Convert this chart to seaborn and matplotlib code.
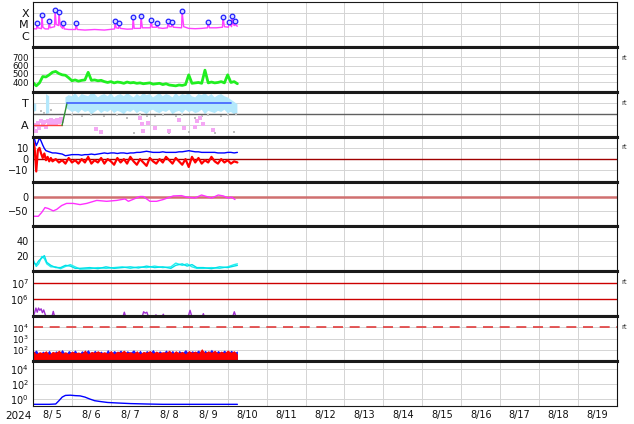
import matplotlib
matplotlib.use('Agg')
import matplotlib.pyplot as plt
import matplotlib.dates as mdates
from matplotlib.ticker import FixedLocator, FuncFormatter, NullFormatter
import numpy as np
import pandas as pd
import seaborn as sns

START = pd.Timestamp('2024-08-05 00:00')
END = pd.Timestamp('2024-08-20 00:00')

# panel 1: x-ray flux, log10 W/m2 (hours since 8/5 00:00)
XRAY_HOURS = [0, 2.2, 2.5, 3.0, 5.2, 5.5, 6.1, 7.5, 9.6, 9.9, 10.6, 13.3, 13.6, 14.3, 15.7, 16.0, 16.8,
              18.2, 18.5, 19.3, 22.0, 26.2, 26.5, 27.3, 32.0, 38.0, 44.0, 50.3, 50.6, 51.3, 52.7, 53.0,
              53.8, 58.0, 61.4, 61.7, 62.4, 66.3, 66.6, 67.4, 72.4, 72.7, 73.5, 76.1, 76.4, 77.2, 80.0,
              82.9, 83.2, 84.0, 85.4, 85.7, 86.5, 91.6, 91.9, 92.9, 96.0, 100.0, 104.0, 107.6, 107.9,
              108.8, 113.0, 116.8, 117.1, 118.0, 120.5, 120.8, 121.5, 122.4, 122.7, 123.4, 124.2, 124.5,
              125.2, 126.0]
XRAY_LOG = [-5.38, -5.40, -4.91, -5.30, -5.38, -4.18, -5.25, -5.40, -5.40, -4.73, -5.30, -5.20, -3.73,
            -5.00, -5.10, -3.91, -5.10, -5.35, -4.91, -5.40, -5.45, -5.45, -4.91, -5.45, -5.50, -5.45,
            -5.50, -5.40, -4.73, -5.30, -5.35, -4.91, -5.35, -5.42, -5.40, -4.36, -5.35, -5.35, -4.27,
            -5.30, -5.30, -4.64, -5.25, -5.25, -4.91, -5.30, -5.35, -5.30, -4.73, -5.20, -5.20, -4.82,
            -5.25, -5.30, -3.82, -5.20, -5.35, -5.38, -5.35, -5.30, -4.82, -5.30, -5.30, -5.25, -4.36,
            -5.20, -5.25, -4.82, -5.00, -5.20, -4.27, -5.00, -5.10, -4.73, -5.10, -5.15]
FLARE_HOURS = [2.5, 5.5, 9.9, 13.6, 16.0, 18.5, 26.5, 50.6, 53.0, 61.7, 66.6, 72.7, 76.4, 83.2, 85.7,
               91.9, 107.9, 117.1, 120.8, 122.7, 124.5]
FLARE_LOG = [-4.91, -4.18, -4.73, -3.73, -3.91, -4.91, -4.91, -4.73, -4.91, -4.36, -4.27, -4.64, -4.91,
             -4.73, -4.82, -3.82, -4.82, -4.36, -4.82, -4.27, -4.73]
XRAY_TICKS = [-6, -5, -4]
XRAY_LABELS = ['C', 'M', 'X']

# 2-hourly samples, 0..126 h
GRID_HOURS = np.arange(0, 127, 2)

# panel 2: solar wind speed
WIND_SPEED = [400, 360, 395, 470, 465, 490, 520, 530, 505, 490,
              485, 455, 420, 430, 415, 425, 430, 520, 425, 430,
              420, 425, 410, 400, 410, 395, 405, 400, 390, 405,
              395, 400, 390, 395, 385, 390, 395, 380, 385, 390,
              375, 385, 370, 365, 360, 370, 365, 375, 490, 390,
              395, 400, 390, 545, 395, 405, 395, 400, 410, 395,
              490, 400, 410, 385]

# panel 3: sector (T / A)
SECTOR_HOURS = [0, 17.9, 21.0, 122.0]
SECTOR_VAL = [-1, -1, 1, 1]
n = np.nan
TOWARD_HIGH = [1.0, 0.9, n, n, 1.8, 1.6, n, n, n, n, 1.5,
               1.7, 1.6, 1.9, 1.5, 1.8, 1.7, 1.6, 1.9, 1.8, 1.5, 1.7, 1.8, 1.6, 1.9, 1.5, 1.7, 1.8,
               1.6, 1.9, 1.7, 1.5, 1.8, 1.6, 1.9, 1.7, 1.8, 1.5, 1.7, 1.9, 1.6, 1.8, 1.7, 1.5, 1.9,
               1.6, 1.8, 1.7, 1.9, 1.6, 1.5, 1.8, 1.7, 1.9, 1.6, 1.8, 1.5, 1.7, 1.8, 1.6, 1.5, 1.3,
               1.1, 0.9]
TOWARD_LOW = [0.2, 0.3, n, n, 0.0, 0.1, n, n, n, n, 0.6,
              0.4, 0.2, 0.3, 0.1, 0.4, 0.2, 0.3, 0.0, 0.2, 0.4, 0.1, 0.3, 0.2, 0.4, 0.1, 0.3, 0.2,
              0.0, 0.3, 0.2, 0.4, 0.1, 0.3, 0.2, 0.0, 0.3, 0.4, 0.2, 0.1, 0.3, 0.2, 0.4, 0.0, 0.2,
              0.3, 0.1, 0.4, 0.2, 0.3, 0.1, 0.2, 0.4, 0.0, 0.3, 0.2, 0.1, 0.3, 0.2, 0.4, 0.1, 0.2,
              0.0, 0.1]
GRAY_HOURS = [5, 7, 11, 24, 30, 36, 41, 44, 52, 58, 62, 66, 70, 75, 80, 84, 88, 92, 96, 100, 104, 108,
              112, 116, 120, 124, 125]
GRAY_VAL = [0.3, 0.1, 0.4, -0.1, -0.2, -0.1, -1.7, -0.2, -0.1, -0.3, -1.7, 0.0, -0.2, -0.2, -0.1, -1.7,
            -0.2, -0.1, -1.6, -0.3, -0.2, -0.1, -1.7, -0.2, -0.1, -1.6, 0.0]
PINK_HOURS = [0, 1, 2, 3, 4, 5, 6, 7, 8, 9, 10, 11, 12, 13, 14, 15, 16, 17, 18, 39, 42, 66, 67, 68, 71,
              75, 84, 90, 93, 100, 101, 103, 105, 111]
PINK_VAL = [-1.3, -1.0, -1.5, -0.8, -1.2, -0.6, -1.0, -0.7, -1.1, -0.6, -0.9, -0.5, -0.8, -0.6, -0.9,
            -0.5, -0.7, -0.4, -0.6, -1.3, -1.6, -0.3, -0.9, -1.5, -0.8, -1.2, -1.5, -0.5, -1.2, -1.1,
            -0.6, -0.3, -0.9, -1.4]

# panel 4: IMF Bt / Bz (nT)
IMF_HOURS = np.r_[np.arange(0, 12), np.arange(12, 127, 2)]
BT = [19, 17.5, 12, 15, 19, 16, 12.5, 9.5, 7.5, 7, 6.5, 6,
      5.5, 5.5, 5, 4.5, 3, 3.5, 4, 4, 4, 3.5,
      4, 4, 4.5, 4, 4.5, 5, 5.5, 5, 5.5, 5.5,
      5, 5.5, 5.5, 5, 5.5, 5.5, 6, 6, 6.5, 7,
      6.5, 6, 6, 6, 6.5, 6, 6, 6, 6, 6.5,
      6.5, 7, 7.5, 7, 6.5, 6.5, 6, 6, 6, 6,
      6, 5.5, 5.5, 5.5, 6, 6, 5.5, 6]
BZ = [18, 10, -11, 8, 10, 5, 1, 5, -1, 2, -2, 1,
      -2, 0, -3, -1, -4, 1, -3, -1, -4, 0,
      -3, 2, -4, -1, -3, 1, -4, 0, -2, -5,
      1, -3, 0, -4, 2, -2, -5, 0, -3, -6,
      1, -2, -4, 0, -3, 2, -1, -4, 1, -2,
      -5, 0, -7, 2, -3, 1, -4, -1, -3, 2,
      -2, -4, 0, -3, -1, -4, -2, -3]

# panel 5: Dst (nT)
DST_HOURS = [0.2, 3.3, 5.4, 7.4, 9.4, 12.5, 14.6, 17.7, 20.7, 24.8, 29.0, 33.1, 39.3, 45.4, 51.6,
             56.7, 58.8, 65.9, 68.0, 72.1, 76.2, 80.3, 86.5, 91.6, 94.7, 99.8, 103.9, 107.0, 110.1,
             114.2, 117.3, 120.3, 122.4, 124.5]
DST = [-66, -66, -53, -37, -40, -48, -43, -30, -23, -23, -27, -23, -13, -16, -13, -8, -16, 0, 0, -16,
       -16, -10, 2, 3, -2, -5, 5, 0, -5, 5, 2, -5, -2, -10]

# panel 6: density (two sources)
DENS_HOURS = [0, 2, 3.5, 5.5, 7, 8.5, 11, 14, 17, 20, 23, 26, 29, 35, 40, 45, 50, 55, 60, 65, 70, 75,
              80, 85, 88, 92, 95, 98, 101, 105, 110, 115, 120, 124, 126]
DENS_A = [16, 6.5, 10, 20, 17, 10, 6, 6, 3.5, 6.5, 9, 6, 3, 3.5, 5, 4, 5, 6, 4, 6, 5, 7, 5, 6, 11, 8,
          10, 6, 4, 4, 5, 4, 6, 9, 10]
DENS_B = [12, 9, 14, 18, 21, 12, 8, 5, 5, 8, 7, 4, 4, 5, 3.5, 6, 4, 5, 6, 4.5, 7, 5, 6, 4, 8, 10, 7,
          9, 5, 5, 3.5, 6, 5, 7, 8]

# panel 7: electron flux
E_HOURS = [0, 1.0, 1.8, 2.6, 3.4, 4.2, 5.0, 5.8, 6.6, 7.6, 8.6, 11.6, 12.5, 13.4, 55.4, 56.3, 57.2,
           67.2, 68.2, 69.2, 70.2, 71.2, 75.0, 75.8, 76.6, 79.5, 80.3, 81.1, 95.6, 96.8, 98.0, 104.3,
           105.0, 105.7, 123.0, 124.1, 125.2, 126.0]
E_FLUX = [8e4, 1.5e5, 2.9e5, 1.6e5, 2.9e5, 2.1e5, 2.6e5, 1.5e5, 2.2e5, 1.1e5, 8e4, 8e4, 1.8e5, 8e4,
          8e4, 1.6e5, 8e4, 8e4, 1.7e5, 1.4e5, 1.6e5, 8e4, 8e4, 1.1e5, 8e4, 8e4, 1.2e5, 8e4, 8e4, 2.1e5,
          8e4, 8e4, 1.3e5, 8e4, 8e4, 1.7e5, 8e4, 8e4]
E_LEVELS = [1e6, 1e7]

# panel 8: two flux channels
FLUX_RED = [90, 45, 70, 55, 85, 40, 75, 60, 95, 50,
            70, 45, 80, 55, 65, 50, 100, 45, 75, 60,
            85, 55, 70, 50, 90, 45, 80, 60, 95, 55,
            70, 50, 85, 45, 75, 60, 90, 50, 80, 55,
            70, 60, 95, 50, 85, 55, 75, 45, 90, 60,
            80, 50, 130, 55, 85, 60, 95, 50, 80, 55,
            100, 60, 85, 40]
FLUX_BLUE = [60, 100, 35, 80, 45, 95, 30, 85, 50, 110,
             40, 90, 55, 100, 35, 85, 60, 105, 40, 95,
             50, 80, 35, 110, 45, 90, 55, 100, 40, 85,
             60, 105, 45, 95, 35, 90, 55, 110, 40, 85,
             50, 100, 45, 95, 30, 90, 55, 110, 45, 85,
             60, 100, 40, 95, 50, 115, 45, 90, 55, 100,
             40, 95, 60, 80]
FLUX_THRESHOLD = 1e4

# panel 9: proton flux
P_HOURS = [0, 10, 14, 16, 18, 20, 23, 26, 29, 32, 35, 38, 42, 46, 52, 60, 70, 80, 90, 100, 110, 120, 126]
P_FLUX = [0.2, 0.2, 0.22, 0.6, 1.8, 3.0, 3.2, 2.8, 2.6, 1.8, 1.0, 0.6, 0.45, 0.35, 0.3, 0.25, 0.22,
          0.2, 0.2, 0.2, 0.2, 0.2, 0.2]


def to_time(hours):
    return START + pd.to_timedelta(np.asarray(hours, dtype=float), unit='h')


def log_label(v, pos):
    return r'$10^{%d}$' % int(round(np.log10(v)))


def day_label(v, pos):
    d = mdates.num2date(v)
    return '%d/%2d' % (d.month, d.day)


sns.set_style('white')
plt.rcParams['font.family'] = ['DejaVu Sans']
plt.rcParams['font.size'] = 7

fig, axes = plt.subplots(9, 1, figsize=(6.34, 4.24), dpi=100, sharex=True)
fig.subplots_adjust(left=33 / 634, right=617 / 634, top=1 - 2 / 424, bottom=1 - 406 / 424, hspace=0)

# 1 x-ray
ax = axes[0]
sns.lineplot(x=to_time(XRAY_HOURS), y=XRAY_LOG, ax=ax, color='#ff40ff', linewidth=1,
             estimator=None, sort=False)
sns.scatterplot(x=to_time(FLARE_HOURS), y=FLARE_LOG, ax=ax, marker='o', s=11,
                facecolor='#d8d8ff', edgecolor='#2020ff', linewidth=0.9, zorder=5)
ax.set_ylim(-7, -3)
ax.set_yticks(XRAY_TICKS)

# 2 wind speed
ax = axes[1]
sns.lineplot(x=to_time(GRID_HOURS), y=WIND_SPEED, ax=ax, color='#20ee20', linewidth=2,
             estimator=None, sort=False)
ax.set_ylim(290, 820)
ax.set_yticks([400, 500, 600, 700])

# 3 sector
ax = axes[2]
ax.axhline(0, color='#606060', lw=1)
ax.fill_between(to_time(GRID_HOURS), TOWARD_LOW, TOWARD_HIGH, color='#b4e8fc', lw=0)
ax.plot(to_time(GRAY_HOURS), GRAY_VAL, ls='none', marker='s', ms=1.8, color='#bdbdbd', mew=0)
ax.plot(to_time(PINK_HOURS), PINK_VAL, ls='none', marker='s', ms=2.2, color='#f4a8f4', mew=0)
st = to_time(SECTOR_HOURS)
ax.plot(st[0:2], SECTOR_VAL[0:2], color='#ff4040', lw=1)
ax.plot(st[1:3], SECTOR_VAL[1:3], color='#309030', lw=1)
ax.plot(st[2:4], SECTOR_VAL[2:4], color='#4060ff', lw=1.2)
ax.set_ylim(-2, 2)
ax.set_yticks([-1, 1])

# 4 IMF
ax = axes[3]
ax.axhline(0, color='#a00000', lw=1)
it = to_time(IMF_HOURS)
sns.lineplot(x=it, y=BZ, ax=ax, color='#ff0000', linewidth=1.6, estimator=None, sort=False)
sns.lineplot(x=it, y=BT, ax=ax, color='#0000ff', linewidth=1, estimator=None, sort=False)
ax.set_ylim(-20, 20)
ax.set_yticks([-10, 0, 10])

# 5 Dst
ax = axes[4]
ax.axhline(0, color='#d07070', lw=1.8)
sns.lineplot(x=to_time(DST_HOURS), y=DST, ax=ax, color='#ff30ff', linewidth=1,
             estimator=None, sort=False)
ax.set_ylim(-100, 50)
ax.set_yticks([-50, 0])

# 6 density
ax = axes[5]
dt = to_time(DENS_HOURS)
sns.lineplot(x=dt, y=DENS_A, ax=ax, color='#20f0f0', linewidth=1, estimator=None, sort=False)
sns.lineplot(x=dt, y=DENS_B, ax=ax, color='#00e0e8', linewidth=1, estimator=None, sort=False)
ax.set_ylim(0, 60)
ax.set_yticks([20, 40])

# 7 electrons
ax = axes[6]
ax.set_yscale('log')
for lev in E_LEVELS:
    ax.axhline(lev, color='#cc0000', lw=1)
sns.lineplot(x=to_time(E_HOURS), y=E_FLUX, ax=ax, color='#a030d0', linewidth=1,
             estimator=None, sort=False)
ax.set_ylim(9e4, 5.6e7)
ax.yaxis.set_major_locator(FixedLocator(E_LEVELS))
ax.yaxis.set_major_formatter(FuncFormatter(log_label))

# 8 flux channels
ax = axes[7]
ax.set_yscale('log')
ft = to_time(GRID_HOURS)
ax.fill_between(ft, 1, FLUX_BLUE, color='#1a1aff', lw=0)
ax.fill_between(ft, 1, FLUX_RED, color='#ff0000', lw=0)
ax.axhline(FLUX_THRESHOLD, color='#e03c3c', lw=1.2, dashes=(6, 4))
ax.set_ylim(10, 1e5)
ax.yaxis.set_major_locator(FixedLocator([1e2, 1e3, 1e4]))
ax.yaxis.set_major_formatter(FuncFormatter(log_label))

# 9 protons
ax = axes[8]
ax.set_yscale('log')
sns.lineplot(x=to_time(P_HOURS), y=P_FLUX, ax=ax, color='#0000ff', linewidth=1,
             estimator=None, sort=False)
ax.set_ylim(0.12, 1e5)
ax.yaxis.set_major_locator(FixedLocator([1e0, 1e2, 1e4]))
ax.yaxis.set_major_formatter(FuncFormatter(log_label))

for i, ax in enumerate(axes):
    ax.set_xlim(START, END)
    ax.set_xlabel('')
    ax.set_ylabel('')
    ax.yaxis.set_minor_formatter(NullFormatter())
    ax.xaxis.set_major_locator(mdates.DayLocator())
    ax.xaxis.set_major_formatter(NullFormatter())
    ax.xaxis.set_minor_locator(mdates.HourLocator(byhour=[12]))
    ax.xaxis.set_minor_formatter(FuncFormatter(day_label))
    ax.grid(True, which='major', color='#d4d4d4', lw=0.7)
    ax.set_axisbelow(True)
    ax.tick_params(axis='both', which='both', length=0, pad=3, labelsize=7, colors='#111111')
    for side in ['left', 'right']:
        ax.spines[side].set_linewidth(0.8)
        ax.spines[side].set_color('#111111')
    ax.spines['top'].set_linewidth(0.8 if i == 0 else 2.2)
    ax.spines['bottom'].set_linewidth(0.8 if i == len(axes) - 1 else 2.2)
    ax.spines['top'].set_color('#1a1a1a')
    ax.spines['bottom'].set_color('#1a1a1a')
    if i < len(axes) - 1:
        ax.tick_params(axis='x', which='both', labelbottom=False)

axes[0].set_yticklabels(XRAY_LABELS, fontsize=8)
axes[2].set_yticklabels(['A', 'T'], fontsize=8)
axes[3].set_yticklabels(['\u221210', '0', '10'])
axes[4].set_yticklabels(['\u221250', '0'])
axes[1].tick_params(axis='y', labelsize=6.2)
axes[7].tick_params(axis='y', labelsize=6.4)

for i in [1, 2, 3, 6, 7]:
    axes[i].text(1.008, 0.76, 'rt', transform=axes[i].transAxes, fontsize=5,
                 ha='left', va='center', color='#333333')

fig.text(18 / 634, 1 - 416 / 424, '2024', ha='center', va='center', fontsize=7.5, color='#111111')

fig.savefig('out.png', dpi=100)
